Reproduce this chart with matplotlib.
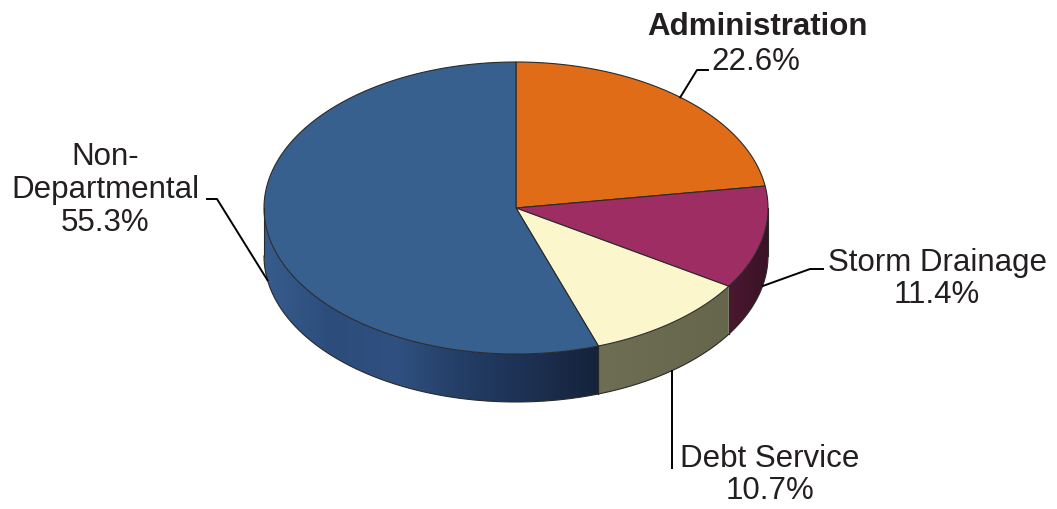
import matplotlib.pyplot as plt
import numpy as np
from matplotlib.patches import Polygon
from matplotlib.colors import LinearSegmentedColormap

# Budget share by department (percent)
labels = ['Administration', 'Storm Drainage', 'Debt Service', 'Non-\nDepartmental']
shares = [22.6, 11.4, 10.7, 55.3]
top_colors = ['#e06c17', '#9d2d63', '#fcf6cd', '#37608f']
# wall shading, left to right
side_colors = [['#8a4210', '#8a4210'],
               ['#4a1830', '#3a1226'],
               ['#6e6e55', '#66664d'],
               ['#375c8c', '#2c4d7c', '#2f5080', '#233d64', '#1c3051', '#15223b']]

plt.rcParams['font.family'] = ['Liberation Sans', 'DejaVu Sans']

# pie geometry in pixels
cx, cy = 516, 209
rx, ry = 252, 146
depth = 48
edge = '#2a2a2a'


def top_pt(t):
    return cx + rx * np.cos(np.radians(t)), cy - ry * np.sin(np.radians(t))


fig = plt.figure(figsize=(10.57, 5.10), dpi=100)
ax = fig.add_axes([0, 0, 1, 1])
ax.set_xlim(0, 1057)
ax.set_ylim(510, 0)
ax.axis('off')

# slice angles, clockwise from 12 o'clock
bounds = 90 - np.concatenate([[0], np.cumsum(shares)]) * 3.6
slices = list(zip(bounds[:-1], bounds[1:]))

# visible side walls (front half only), filled with a horizontal gradient
for (t_start, t_end), cols in zip(slices, side_colors):
    lo, hi = max(t_end, -180), min(t_start, 0)
    if lo >= hi:
        continue
    ts = np.linspace(lo, hi, 120)
    xs, ys = top_pt(ts)
    pts = np.vstack([np.column_stack([xs, ys]),
                     np.column_stack([xs[::-1], ys[::-1] + depth])])
    wall = Polygon(pts, closed=True, facecolor='none', edgecolor='none')
    ax.add_patch(wall)
    cmap = LinearSegmentedColormap.from_list('wall', cols)
    grad = np.linspace(0, 1, 256).reshape(1, -1)
    im = ax.imshow(grad, cmap=cmap, aspect='auto', interpolation='bilinear',
                   extent=[xs.min(), xs.max(), ys.max() + depth, ys.min()])
    im.set_clip_path(wall)
    # divider lines on the wall
    for t in (lo, hi):
        x, y = top_pt(t)
        ax.plot([x, x], [y, y + depth], color=edge, lw=0.8)

ax.set_xlim(0, 1057)
ax.set_ylim(510, 0)

# bottom outline of the wall
ts = np.linspace(-180, 0, 200)
xs, ys = top_pt(ts)
ax.plot(xs, ys + depth, color=edge, lw=0.8)

# top faces
for (t_start, t_end), col in zip(slices, top_colors):
    ts = np.linspace(t_start, t_end, 120)
    xs, ys = top_pt(ts)
    pts = np.vstack([[cx, cy], np.column_stack([xs, ys])])
    ax.add_patch(Polygon(pts, closed=True, facecolor=col,
                         edgecolor=edge, linewidth=0.8))

# leader anchors at each slice's middle angle
mids = [(a + b) / 2 for a, b in slices]
anchors = []
for m in mids:
    x, y = top_pt(m)
    if np.sin(np.radians(m)) < 0:
        y += depth
    anchors.append((x, y))

pcts = [f'{v:.1f}%' for v in shares]
txt = dict(color='#231f20', fontsize=22.5)

# Administration
ax.text(757, 27, labels[0], ha='center', va='center', fontweight='bold', **txt)
ax.text(711, 62, pcts[0], ha='left', va='center', **txt)
ax.plot([anchors[0][0], 697, 708], [anchors[0][1], 71, 71], color='black', lw=1.4)

# Storm Drainage
ax.text(937, 279, labels[1] + '\n' + pcts[1], ha='center', va='center',
        linespacing=1.12, **txt)
ax.plot([anchors[1][0], 810, 823], [anchors[1][1], 270, 270], color='black', lw=1.4)

# Debt Service
ax.text(770, 475, labels[2] + '\n' + pcts[2], ha='center', va='center',
        linespacing=1.12, **txt)
ax.plot([anchors[2][0], anchors[2][0]], [anchors[2][1], 469], color='black', lw=1.4)

# Non-Departmental
ax.text(105, 190, labels[3] + '\n' + pcts[3], ha='center', va='center',
        linespacing=1.12, **txt)
ax.plot([anchors[3][0], 217, 207], [anchors[3][1], 200, 200], color='black', lw=1.4)

fig.savefig('out.png', dpi=100)
